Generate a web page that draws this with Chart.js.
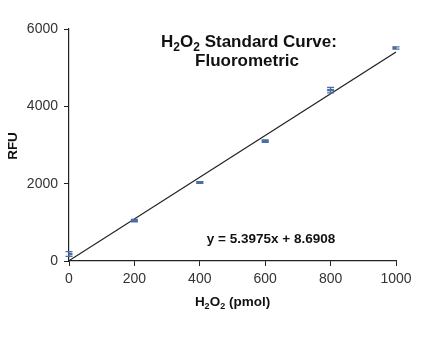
<!DOCTYPE html>
<html>
<head>
<meta charset="utf-8">
<script src="https://cdn.jsdelivr.net/npm/chart.js@4"></script>
<style>
html,body{margin:0;padding:0;background:#fff;}
#wrap{width:423px;height:350px;}
</style>
</head>
<body>
<div id="wrap"><canvas id="c" width="423" height="350"></canvas></div>
<script>
const amounts = [0, 200, 400, 600, 800, 1000];
const rfu = [180, 1045, 2030, 3100, 4420, 5510];
const rfuErr = [60, 30, 25, 30, 70, 30];
const trendX = [0, 1000];
const trendY = [8.6908, 5406.1908];
const xTicks = [0, 200, 400, 600, 800, 1000];
const yTicks = [0, 2000, 4000, 6000];
const titleLine1 = ['H', '2', 'O', '2', ' Standard Curve:'];
const titleLine2 = 'Fluorometric';
const equation = 'y = 5.3975x + 8.6908';
const yTitle = 'RFU';
const xTitle = ['H', '2', 'O', '2', ' (pmol)'];

const FONT = '"Liberation Sans", Arial, sans-serif';
const MARK = '#4a6fa8';

function drawSub(ctx, parts, cx, y, size) {
  const big = 'bold ' + size + 'px ' + FONT;
  const small = 'bold ' + Math.round(size * 0.7) + 'px ' + FONT;
  let w = 0;
  parts.forEach((p, i) => { ctx.font = (i % 2 === 1) ? small : big; w += ctx.measureText(p).width; });
  let x = cx - w / 2;
  ctx.textAlign = 'left';
  ctx.textBaseline = 'alphabetic';
  parts.forEach((p, i) => {
    const sub = i % 2 === 1;
    ctx.font = sub ? small : big;
    ctx.fillText(p, x, sub ? y + size * 0.22 : y);
    x += ctx.measureText(p).width;
  });
}

const errPlugin = {
  id: 'errbars',
  afterDatasetsDraw(chart) {
    const ctx = chart.ctx;
    const xs = chart.scales.x, ys = chart.scales.y;
    ctx.save();
    ctx.strokeStyle = MARK;
    ctx.lineWidth = 1.3;
    amounts.forEach((a, i) => {
      const px = xs.getPixelForValue(a);
      const top = ys.getPixelForValue(rfu[i] + rfuErr[i]);
      const bot = ys.getPixelForValue(rfu[i] - rfuErr[i]);
      ctx.beginPath();
      ctx.moveTo(px, top); ctx.lineTo(px, bot);
      ctx.moveTo(px - 3.5, top); ctx.lineTo(px + 3.5, top);
      ctx.moveTo(px - 3.5, bot); ctx.lineTo(px + 3.5, bot);
      ctx.stroke();
    });
    ctx.restore();
  }
};

const textPlugin = {
  id: 'texts',
  afterDraw(chart) {
    const ctx = chart.ctx;
    const area = chart.chartArea;
    ctx.save();
    ctx.fillStyle = '#111';
    drawSub(ctx, titleLine1, 249, 47, 17);
    ctx.font = 'bold 17px ' + FONT;
    ctx.textAlign = 'center';
    ctx.textBaseline = 'alphabetic';
    ctx.fillText(titleLine2, 247, 66);
    ctx.font = 'bold 13.5px ' + FONT;
    ctx.fillText(equation, 271, 243);
    drawSub(ctx, xTitle, (area.left + area.right) / 2, 306, 13.5);
    ctx.translate(13, 146);
    ctx.rotate(-Math.PI / 2);
    ctx.font = 'bold 13.5px ' + FONT;
    ctx.textAlign = 'center';
    ctx.textBaseline = 'middle';
    ctx.fillText(yTitle, 0, 0);
    ctx.restore();
  }
};

new Chart(document.getElementById('c'), {
  type: 'scatter',
  data: {
    datasets: [
      {
        label: 'Trend',
        type: 'line',
        data: trendX.map((x, i) => ({x: x, y: trendY[i]})),
        borderColor: '#222',
        borderWidth: 1.2,
        pointRadius: 0,
        fill: false,
        order: 2
      },
      {
        label: 'RFU',
        data: amounts.map((x, i) => ({x: x, y: rfu[i]})),
        pointStyle: 'line',
        pointRadius: 3.5,
        borderColor: MARK,
        backgroundColor: MARK,
        pointBorderWidth: 2.5,
        order: 1
      }
    ]
  },
  options: {
    responsive: false,
    animation: false,
    layout: { padding: { left: 0, right: 27, top: 29, bottom: 0 } },
    plugins: { legend: { display: false }, tooltip: { enabled: false }, title: { display: false } },
    scales: {
      x: {
        type: 'linear', min: 0, max: 1000,
        afterBuildTicks: (s) => { s.ticks = xTicks.map(v => ({value: v})); },
        afterFit: (s) => { s.height = 89; },
        grid: { display: true, drawOnChartArea: false, drawTicks: true, tickLength: 5, color: '#222', lineWidth: 1 },
        border: { color: '#222', width: 1.2 },
        ticks: { color: '#333', font: { family: FONT, size: 14 }, padding: 5, maxRotation: 0, callback: (v) => String(v) }
      },
      y: {
        type: 'linear', min: 0, max: 6000,
        afterBuildTicks: (s) => { s.ticks = yTicks.map(v => ({value: v})); },
        afterFit: (s) => { s.width = 69; },
        grid: { display: true, drawOnChartArea: false, drawTicks: true, tickLength: 5, color: '#222', lineWidth: 1 },
        border: { color: '#222', width: 1.2 },
        ticks: { color: '#333', font: { family: FONT, size: 14 }, padding: 6, callback: (v) => String(v) }
      }
    }
  },
  plugins: [errPlugin, textPlugin]
});
</script>
</body>
</html>
